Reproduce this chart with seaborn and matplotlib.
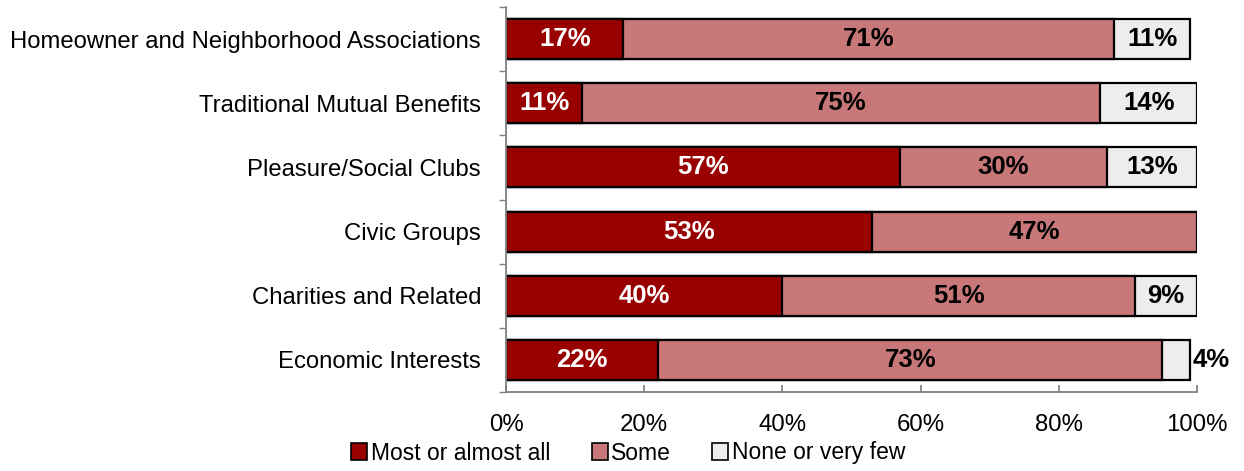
import matplotlib
matplotlib.use("Agg")
import matplotlib.pyplot as plt
import seaborn as sns
import pandas as pd
import numpy as np
from matplotlib.patches import Patch
from matplotlib.ticker import FixedLocator

categories = [
    "Homeowner and Neighborhood Associations",
    "Traditional Mutual Benefits",
    "Pleasure/Social Clubs",
    "Civic Groups",
    "Charities and Related",
    "Economic Interests",
]
most = [17, 11, 57, 53, 40, 22]
some = [71, 75, 30, 47, 51, 73]
none_few = [11, 14, 13, 0, 9, 4]
series_names = ["Most or almost all", "Some", "None or very few"]
colors = ["#990000", "#C87878", "#EDEDEB"]
xticks = [0, 20, 40, 60, 80, 100]

sns.set_theme(style="white")
plt.rcParams["font.family"] = ["Liberation Sans", "DejaVu Sans"]
plt.rcParams["text.color"] = "black"
plt.rcParams["xtick.color"] = "black"
plt.rcParams["ytick.color"] = "black"

df = pd.DataFrame({"category": categories, "most": most, "some": some, "none": none_few})
df["cum1"] = df["most"]
df["cum2"] = df["most"] + df["some"]
df["cum3"] = df["cum2"] + df["none"]

fig = plt.figure(figsize=(12.44, 4.71), dpi=100)
ax = fig.add_axes([506 / 1244, 1 - 392 / 471, (1197 - 506) / 1244, (392 - 7) / 471])

# stacked bars drawn as overlapping cumulative layers
for col, color in zip(["cum3", "cum2", "cum1"], colors[::-1]):
    sns.barplot(data=df, y="category", x=col, color=color, orient="h",
                width=0.625, edgecolor="black", linewidth=1.6,
                saturation=1, ax=ax)

# segment labels
label_size = 18.5
for i, row in df.iterrows():
    segs = [(0, row["most"], "white"),
            (row["cum1"], row["some"], "black"),
            (row["cum2"], row["none"], "black")]
    for j, (start, w, tc) in enumerate(segs):
        if w <= 0:
            continue
        if j == 2 and w < 6:
            ax.text(row["cum3"] + 0.3, i, f"{w}%", ha="left", va="center",
                    color=tc, fontsize=label_size, fontweight="bold")
        else:
            ax.text(start + w / 2, i, f"{w}%", ha="center", va="center",
                    color=tc, fontsize=label_size, fontweight="bold")

ax.set_xlim(0, 100)
ax.set_ylim(len(categories) - 0.5, -0.5)
ax.set_xlabel("")
ax.set_ylabel("")
ax.set_xticks(xticks)
ax.set_xticklabels([f"{t}%" for t in xticks], fontsize=17.3)
ax.tick_params(axis="x", direction="in", length=5, color="#808080", pad=16,
               bottom=True, labelcolor="black")
ax.tick_params(axis="y", which="major", length=0, labelsize=17.2, pad=18,
               labelcolor="black")
ax.yaxis.set_minor_locator(FixedLocator(np.arange(-0.5, len(categories), 1)))
ax.tick_params(axis="y", which="minor", length=5, color="#808080",
               direction="out", left=True)

for side in ["top", "right"]:
    ax.spines[side].set_visible(False)
for side in ["left", "bottom"]:
    ax.spines[side].set_color("#808080")
    ax.spines[side].set_linewidth(1.3)

handles = [Patch(facecolor=c, edgecolor="black", linewidth=1.2) for c in colors]
fig.legend(handles, series_names, loc="center", bbox_to_anchor=(0.505, 1 - 453 / 471),
           ncol=3, frameon=False, fontsize=16.5, handlelength=0.7, handleheight=0.7,
           handletextpad=0.15, columnspacing=1.8)

fig.savefig("out.png", dpi=100)
